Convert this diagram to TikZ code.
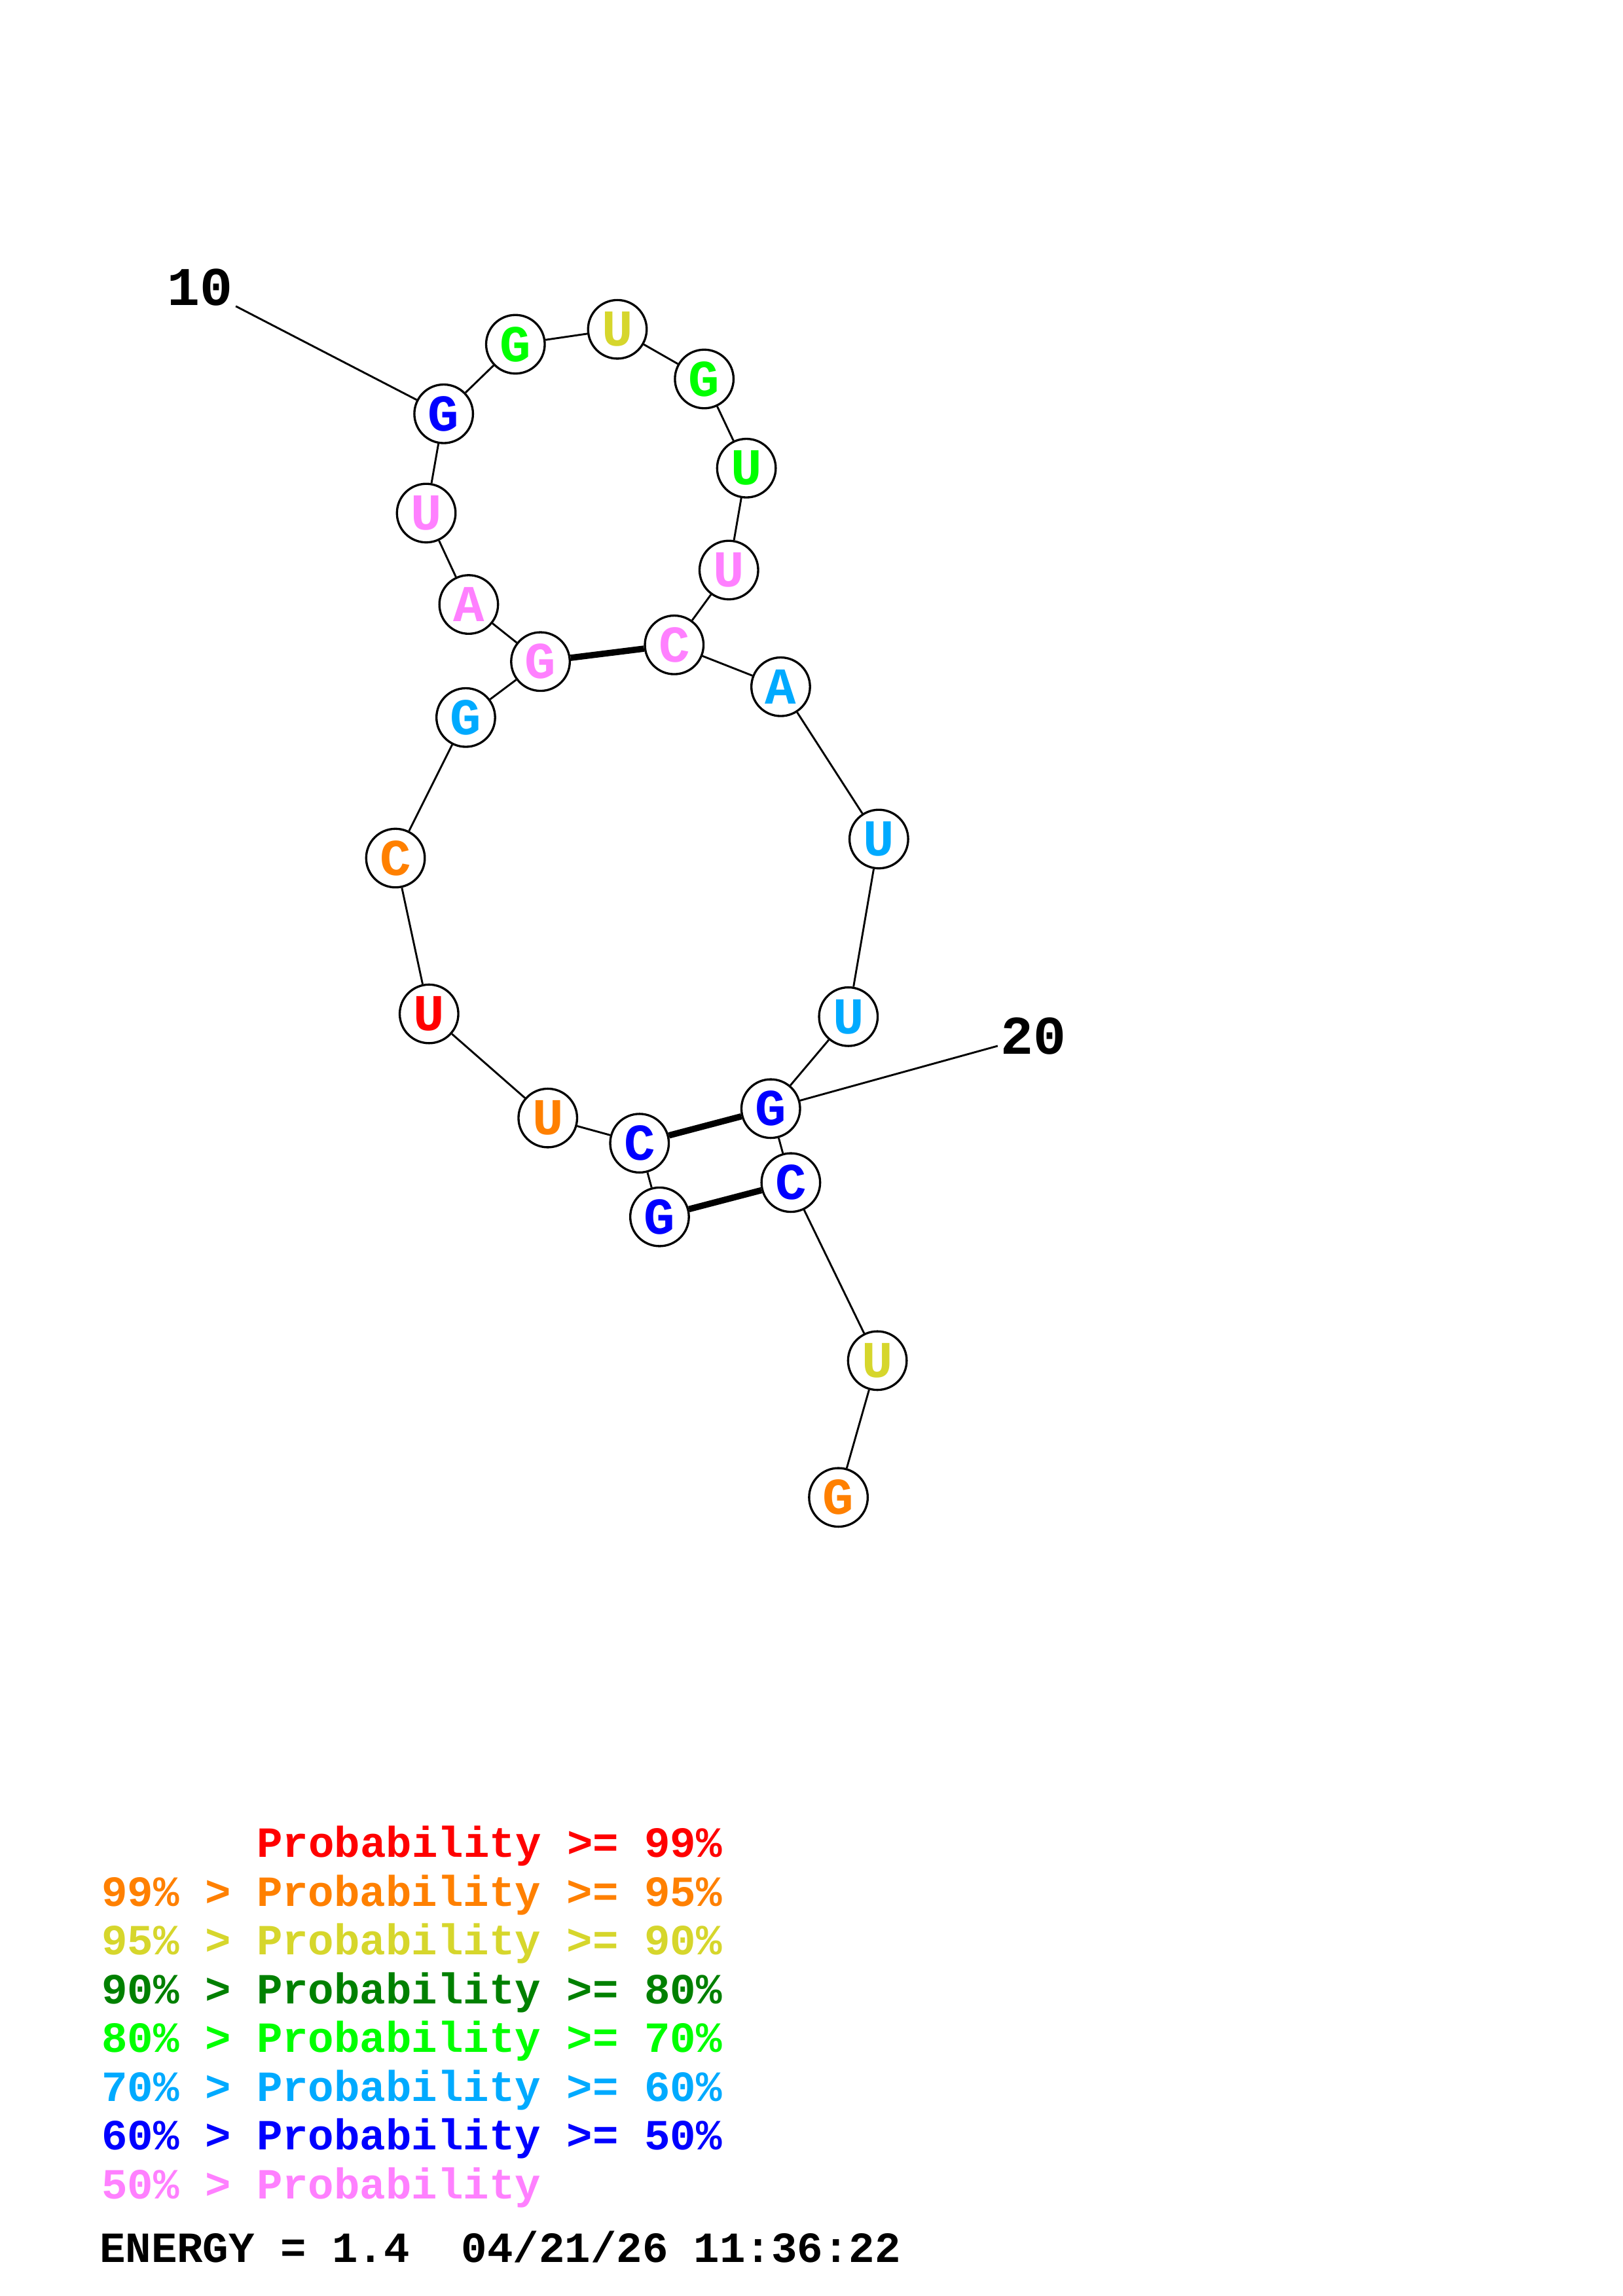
\documentclass[tikz,border=0pt]{standalone}
\usepackage{fontspec}
\newfontfamily\rnafont{Liberation Mono}
\definecolor{pnn}{RGB}{255,0,0}
\definecolor{pnf}{RGB}{255,128,0}
\definecolor{pni}{RGB}{214,214,44}
\definecolor{pei}{RGB}{0,128,0}
\definecolor{pse}{RGB}{0,255,0}
\definecolor{psi}{RGB}{0,170,255}
\definecolor{pfi}{RGB}{0,0,255}
\definecolor{plo}{RGB}{255,128,255}

\begin{document}
\begin{tikzpicture}[x=0.5373pt, y=-0.5373pt,
nuc/.style={circle, draw, line width=0.8pt, fill=white, minimum size=21.5pt, inner sep=0pt,
  font=\rnafont\bfseries\fontsize{19}{19}\selectfont},
backbone/.style={line width=0.7pt},
pair/.style={line width=2.3pt},
tick/.style={inner sep=1pt, font=\rnafont\bfseries\fontsize{20}{20}\selectfont},
legend/.style={anchor=base west, inner sep=0pt, font=\rnafont\bfseries\fontsize{15.8}{15.8}\selectfont}]

\useasboundingbox (0,0) rectangle (1108,1568);

%%%%%% BASES %%%%%%%%%%

\node[nuc, text=pfi] (n1) at (450.3,831) {G};
\node[nuc, text=pfi] (n2) at (436.6,780.7) {C};
\node[nuc, text=pnf] (n3) at (374,763.5) {U};
\node[nuc, text=pnn] (n4) at (292.9,692.4) {U};
\node[nuc, text=pnf] (n5) at (270,586) {C};
\node[nuc, text=psi] (n6) at (318,490) {G};
\node[nuc, text=plo] (n7) at (369,451.8) {G};
\node[nuc, text=plo] (n8) at (320,412.8) {A};
\node[nuc, text=plo] (n9) at (291,350.4) {U};
\node[nuc, text=pfi] (n10) at (302.9,282.6) {G};
\node[nuc, text=pse] (n11) at (351.9,235.1) {G};
\node[nuc, text=pni] (n12) at (421.5,224.9) {U};
\node[nuc, text=pse] (n13) at (480.8,258.8) {G};
\node[nuc, text=pse] (n14) at (509.6,319.7) {U};
\node[nuc, text=plo] (n15) at (497.6,389.3) {U};
\node[nuc, text=plo] (n16) at (460.3,440.4) {C};
\node[nuc, text=psi] (n17) at (533,469) {A};
\node[nuc, text=psi] (n18) at (600,573) {U};
\node[nuc, text=psi] (n19) at (579.2,694.3) {U};
\node[nuc, text=pfi] (n20) at (526.2,757.1) {G};
\node[nuc, text=pfi] (n21) at (539.9,807.6) {C};
\node[nuc, text=pni] (n22) at (599,929.2) {U};
\node[nuc, text=pnf] (n23) at (572.4,1022.6) {G};

%%%%%% BONDS %%%%%%%%%%

\foreach \i in {1,...,22}{
  \pgfmathtruncatemacro{\j}{\i+1}
  \draw[backbone] (n\i) -- (n\j);
}
\draw[pair] (n7) -- (n16);
\draw[pair] (n2) -- (n20);
\draw[pair] (n1) -- (n21);

\node[tick] (lab10) at (136.4,196.4) {10};
\node[tick] (lab20) at (705.7,707.5) {20};
\draw[backbone] (n10) -- (lab10);
\draw[backbone] (n20) -- (lab20);

%%%%%% LEGEND %%%%%%%%%%

\foreach \x/\y/\c/\t in {
  175/1268.5/pnn/{Probability~>=~99\%},
  69/1301.8/pnf/{99\%~>~Probability~>=~95\%},
  69/1335.1/pni/{95\%~>~Probability~>=~90\%},
  69/1368.4/pei/{90\%~>~Probability~>=~80\%},
  69/1401.7/pse/{80\%~>~Probability~>=~70\%},
  69/1435.0/psi/{70\%~>~Probability~>=~60\%},
  69/1468.3/pfi/{60\%~>~Probability~>=~50\%},
  69/1501.6/plo/{50\%~>~Probability}}
  \node[legend, text=\c] at (\x,\y) {\t};

\node[legend] (energy) at (67.6,1545) {ENERGY~=~1.4~~04/21/26~11:36:22};
\end{tikzpicture}
\end{document}
